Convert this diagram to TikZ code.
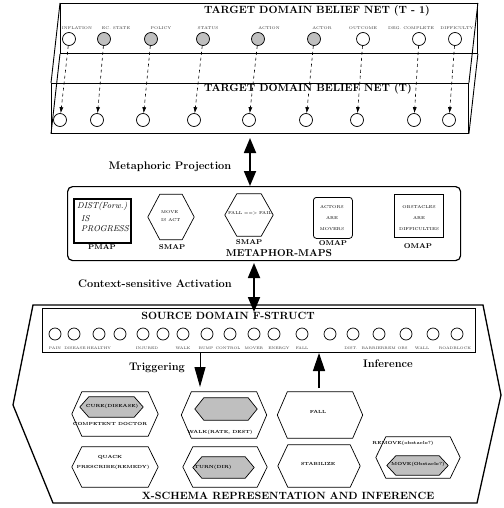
\documentclass[tikz,border=0pt]{standalone}
\usetikzlibrary{arrows.meta}
\newcommand{\hexof}[3][]{\draw[hexline,#1] (#2.west) -- ([xshift=#3]#2.north west) -- ([xshift=-#3]#2.north east) -- (#2.east) -- ([xshift=-#3]#2.south east) -- ([xshift=#3]#2.south west) -- cycle;}
\begin{document}
\begin{tikzpicture}[x=1pt,y=-1pt,
  title/.style={font=\bfseries\fontsize{10.5}{12}\selectfont, inner sep=0},
  midtitle/.style={font=\bfseries\fontsize{11}{13}\selectfont, inner sep=0},
  lab/.style={font=\fontsize{4}{4.5}\selectfont, text=black!80, inner sep=0},
  slab/.style={font=\fontsize{3.7}{4.2}\selectfont, text=black!80, inner sep=0},
  maplab/.style={font=\bfseries\fontsize{7}{8}\selectfont, inner sep=0},
  tiny/.style={font=\fontsize{4.2}{5}\selectfont, inner sep=0},
  hextext/.style={font=\bfseries\fontsize{4.4}{5}\selectfont, inner sep=0},
  pmtext/.style={font=\itshape\fontsize{8.5}{9}\selectfont, inner sep=0, anchor=west},
  circ/.style={circle, draw, line width=0.7pt, minimum size=13pt, inner sep=0},
  scirc/.style={circle, draw, line width=0.7pt, minimum size=12pt, inner sep=0},
  framebox/.style={draw, line width=0.9pt, inner sep=0, anchor=north west},
  hexnode/.style={inner sep=0, rectangle},
  hexline/.style={line width=0.7pt},
  dasharrow/.style={dashed, line width=0.6pt, -{Latex[length=6pt,width=4pt]}},
  dblarrow/.style={line width=1.8pt, {Triangle[length=15pt,width=12pt]}-{Triangle[length=15pt,width=12pt]}},
]
\useasboundingbox (0,0) rectangle (503,508);

% ---------- target domain belief nets ----------
\node[framebox, minimum width=417pt, minimum height=50pt] (tm1) at (60,3) {};
\node[framebox, minimum width=417pt, minimum height=50pt] (tt) at (51,83) {};
\draw[line width=0.9pt] (tm1.north west) -- (tt.north west);
\draw[line width=0.9pt] (tm1.south west) -- (tt.south west);
\draw[line width=0.9pt] (tm1.north east) -- (tt.north east);
\draw[line width=0.9pt] (tm1.south east) -- (tt.south east);
\node[title] (tm1title) at (317,11) {TARGET DOMAIN BELIEF NET (T - 1)};
\node[title] (tttitle) at (308,89) {TARGET DOMAIN BELIEF NET (T)};

\foreach \x/\lx/\txt/\fc [count=\i] in {69/77/INFLATION/white,104/116/EC. STATE/gray!50,151/161/POLICY/gray!50,203/208/STATUS/gray!50,258/269/ACTION/gray!50,314/322/ACTOR/gray!50,363/363/OUTCOME/white,419/411/DEG. COMPLETE/white,455/457/DIFFICULTY/white}{
  \node[circ, fill=\fc] (u\i) at (\x,39) {};
  \node[lab] (ul\i) at (\lx,28) {\txt};
}
\foreach \x [count=\i] in {60,97,143,194,249,306,357,414,449}{
  \node[circ] (t\i) at (\x,120) {};
}
\foreach \i in {1,...,9}{
  \draw[dasharrow] (u\i) -- (t\i);
}

% ---------- metaphoric projection ----------
\node[midtitle] (mptext) at (170,167) {Metaphoric Projection};
\coordinate (mptop) at (250,138);

% ---------- metaphor maps ----------
\node[draw, line width=1.2pt, rounded corners=5pt, inner sep=0, anchor=north west, minimum width=393pt, minimum height=74pt] (maps) at (67,186) {};
\draw[dblarrow] (mptop) -- (mptop |- maps.north);

\node[draw, line width=1.5pt, inner sep=0, anchor=north west, minimum width=57pt, minimum height=44pt] (pmap) at (73,198) {};
\node[pmtext] (pm1) at (77,206) {DIST(Forw.)};
\node[pmtext] (pm2) at (81,219) {IS};
\node[pmtext] (pm3) at (81,229) {PROGRESS};
\node[maplab] (pmaplab) at (102,247) {PMAP};

\node[hexnode, minimum width=46pt, minimum height=45pt] (smap1) at (171,217) {};
\hexof{smap1}{12pt}
\node[tiny, anchor=west] (sm1a) at (161,212) {MOVE};
\node[tiny, anchor=west] (sm1b) at (161,220) {IS ACT};
\node[maplab] (smaplab1) at (172,247) {SMAP};

\node[hexnode, minimum width=48pt, minimum height=42pt] (smap2) at (249,215) {};
\hexof{smap2}{12pt}
\node[tiny] (sm2a) at (250,213) {FALL ==> FAIL};
\node[maplab] (smaplab2) at (249,242) {SMAP};

\node[draw, line width=0.8pt, rounded corners=3pt, inner sep=0, anchor=north west, minimum width=39pt, minimum height=41pt] (omap1) at (313,197) {};
\node[tiny] (om1a) at (332,207) {ACTORS};
\node[tiny] (om1b) at (332,218) {ARE};
\node[tiny] (om1c) at (332,229) {MOVERS};
\node[maplab] (omaplab1) at (333,243) {OMAP};

\node[draw, line width=0.8pt, inner sep=0, anchor=north west, minimum width=49pt, minimum height=43pt] (omap2) at (394,194) {};
\node[tiny] (om2a) at (419,207) {OBSTACLES};
\node[tiny] (om2b) at (419,218) {ARE};
\node[tiny] (om2c) at (419,229) {DIFFICULTIES};
\node[maplab] (omaplab2) at (418,246) {OMAP};

\node[font=\bfseries\fontsize{10}{12}\selectfont, inner sep=0] (mapstitle) at (279,253) {METAPHOR-MAPS};

% ---------- context-sensitive activation ----------
\node[midtitle] (catext) at (155,284) {Context-sensitive Activation};
\coordinate (catop) at (254,263);
\coordinate (cabot) at (254,312);

% ---------- x-schema hexagon ----------
\draw[line width=1.3pt] (33,305) -- (483,305) -- (501,395) -- (477,503) -- (53,503) -- (13,405) -- cycle;

\node[framebox, line width=0.8pt, fill=white, minimum width=433pt, minimum height=44pt] (src) at (42,308) {};
\draw[dblarrow] (catop) -- (cabot);
\node[title] (srctitle) at (228,316) {SOURCE DOMAIN F-STRUCT};
\foreach \x [count=\i] in {55,74,99,120,143,163,183,207,230,254,274,302,330,353,379,406,433,457}{
  \node[scirc] (s\i) at (\x,334) {};
}
\foreach \x/\txt [count=\i] in {55/PAIN,75/DISEASE,99/HEALTHY,147/INJURED,183/WALK,206/BUMP,228/CONTROL,254/MOVER,279/ENERGY,302/FALL,351/DIST.,373/BARRIER,396/REM OBS,422/WALL,455/ROADBLOCK}{
  \node[slab] (sl\i) at (\x,348) {\txt};
}

\coordinate (trigtop) at (200,352);
\coordinate (trigbot) at (200,387);
\draw[line width=1pt, -{Triangle[length=20pt,width=11pt]}] (trigtop) -- (trigbot);
\node[midtitle] (trigtext) at (157,368) {Triggering};
\coordinate (inftop) at (319,353);
\coordinate (infbot) at (319,388);
\draw[line width=1.3pt, -{Triangle[length=18pt,width=12pt]}] (infbot) -- (inftop);
\node[midtitle] (inftext) at (388,364) {Inference};

% row 1
\node[hexnode, minimum width=86pt, minimum height=44pt] (h1) at (115,414) {};
\hexof{h1}{10pt}
\node[hexnode, minimum width=63pt, minimum height=20pt] (h1i) at (111.5,407) {};
\hexof[fill=gray!50]{h1i}{9pt}
\node[hextext] (h1t) at (112,406) {CURE(DISEASE)};
\node[hextext] (h1u) at (110,424) {COMPETENT DOCTOR};

\node[hexnode, minimum width=85pt, minimum height=46pt] (h2) at (224,415) {};
\hexof{h2}{10pt}
\node[hexnode, minimum width=62pt, minimum height=22pt] (h2i) at (226,409) {};
\hexof[fill=gray!50]{h2i}{9pt}
\node[hextext] (h2u) at (220,432) {WALK(RATE, DEST)};

\node[hexnode, minimum width=85pt, minimum height=46pt] (h3) at (320,415) {};
\hexof{h3}{10pt}
\node[hextext] (h3t) at (318,412) {FALL};

% row 2
\node[hexnode, minimum width=86pt, minimum height=40pt] (h4) at (115,467) {};
\hexof{h4}{10pt}
\node[hextext] (h4a) at (110,457) {QUACK};
\node[hextext] (h4b) at (113,467) {PRESCRIBE(REMEDY)};

\node[hexnode, minimum width=84pt, minimum height=40pt] (h5) at (225,467) {};
\hexof{h5}{10pt}
\node[hexnode, minimum width=61pt, minimum height=21pt] (h5i) at (223.5,467.5) {};
\hexof[fill=gray!50]{h5i}{9pt}
\node[hextext] (h5t) at (213,467) {TURN(DIR)};

\node[hexnode, minimum width=82pt, minimum height=42pt] (h6) at (319,466) {};
\hexof{h6}{10pt}
\node[hextext] (h6t) at (318,464) {STABILIZE};

\node[hexnode, minimum width=84pt, minimum height=41pt] (h7) at (418,457.5) {};
\hexof{h7}{10pt}
\node[hextext] (h7t) at (403,443) {REMOVE(obstacle?)};
\node[hexnode, minimum width=61pt, minimum height=19pt] (h7i) at (417.5,465.5) {};
\hexof[fill=gray!50]{h7i}{9pt}
\node[hextext] (h7u) at (418,464) {MOVE(Obstacle?)};

\node[title] (xtitle) at (288,496) {X-SCHEMA REPRESENTATION AND INFERENCE};
\end{tikzpicture}
\end{document}
